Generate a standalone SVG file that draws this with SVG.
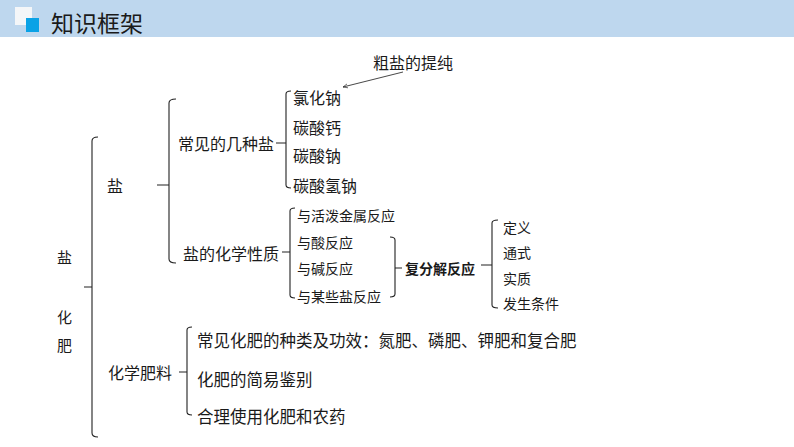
<svg xmlns="http://www.w3.org/2000/svg" width="794" height="447" viewBox="0 0 794 447">
<defs>
<style>
.t{font-family:"Noto Sans CJK SC","Noto Sans",sans-serif;fill:#1a1a1a;dominant-baseline:central}
.s17{font-size:16.5px}
.s16{font-size:16px}
.s15{font-size:15px}
.s14{font-size:14px}
.b{font-weight:bold}
.br{fill:none;stroke:#222;stroke-width:1.1}
</style>
<marker id="ah" viewBox="0 0 8 8" refX="7" refY="4" markerWidth="6" markerHeight="6" orient="auto">
<path d="M0,1 L7,4 L0,7" fill="none" stroke="#333" stroke-width="1"/>
</marker>
</defs>
<rect x="0" y="0" width="794" height="37" fill="#bed7ee"/>
<g id="header">
<rect x="15" y="7" width="17" height="18" fill="#f4f6f8"/>
<rect x="26" y="18" width="13" height="14" fill="#0aa2e6"/>
<text class="t" x="51" y="22" style="font-size:23px">知识框架</text>
</g>
<g id="connectors">
<path class="br" d="M98,137 Q92,137 92,141 L92,433 Q92,437 98,437 M84,287 L92,287"/>
<path class="br" d="M176,99 Q169,99 169,103 L169,259 Q169,263 176,263 M157,185 L169,185"/>
<path class="br" d="M291,91 Q286,91 286,94 L286,185 Q286,188 291,188 M276,143 L286,143"/>
<path class="br" d="M295,208 Q290,208 290,211 L290,295 Q290,298 295,298 M282,252 L290,252"/>
<path class="br" d="M390,237 Q395,237 395,240 L395,294 Q395,297 390,297 M395,268 L402,268"/>
<path class="br" d="M498,220 Q492,220 492,223 L492,305 Q492,308 498,308 M481,265 L492,265"/>
<path class="br" d="M192,327 Q187,327 187,330 L187,412 Q187,415 192,415 M179,372 L187,372"/>
<path d="M403,72 L343,87" fill="none" stroke="#333" stroke-width="0.9" marker-end="url(#ah)"/>
</g>
<g id="n-root"><text class="t s15" x="57" y="256">盐</text><text class="t s15" x="57" y="316">化</text><text class="t s15" x="57" y="344">肥</text></g>
<g id="n-yan"><text class="t s16" x="107" y="185">盐</text></g>
<g id="n-changjian"><text class="t s16" x="178" y="143">常见的几种盐</text></g>
<g id="n-cuyan"><text class="t s16" x="373" y="62">粗盐的提纯</text></g>
<g id="n-nacl"><text class="t s16" x="293" y="97">氯化钠</text></g>
<g id="n-caco3"><text class="t s16" x="293" y="127">碳酸钙</text></g>
<g id="n-na2co3"><text class="t s16" x="293" y="155">碳酸钠</text></g>
<g id="n-nahco3"><text class="t s16" x="293" y="185">碳酸氢钠</text></g>
<g id="n-xingzhi"><text class="t s16" x="183" y="253">盐的化学性质</text></g>
<g id="n-r1"><text class="t s14" x="297" y="215">与活泼金属反应</text></g>
<g id="n-r2"><text class="t s14" x="297" y="242">与酸反应</text></g>
<g id="n-r3"><text class="t s14" x="297" y="268">与碱反应</text></g>
<g id="n-r4"><text class="t s14" x="297" y="296">与某些盐反应</text></g>
<g id="n-fufenjie"><text class="t s14 b" x="405" y="268">复分解反应</text></g>
<g id="n-d1"><text class="t s14" x="503" y="227">定义</text></g>
<g id="n-d2"><text class="t s14" x="503" y="252">通式</text></g>
<g id="n-d3"><text class="t s14" x="503" y="278">实质</text></g>
<g id="n-d4"><text class="t s14" x="503" y="303">发生条件</text></g>
<g id="n-feiliao"><text class="t s16" x="108" y="372">化学肥料</text></g>
<g id="n-f1"><text class="t s17" x="197" y="340">常见化肥的种类及功效：氮肥、磷肥、钾肥和复合肥</text></g>
<g id="n-f2"><text class="t s17" x="197" y="379">化肥的简易鉴别</text></g>
<g id="n-f3"><text class="t s17" x="197" y="416">合理使用化肥和农药</text></g>
</svg>
